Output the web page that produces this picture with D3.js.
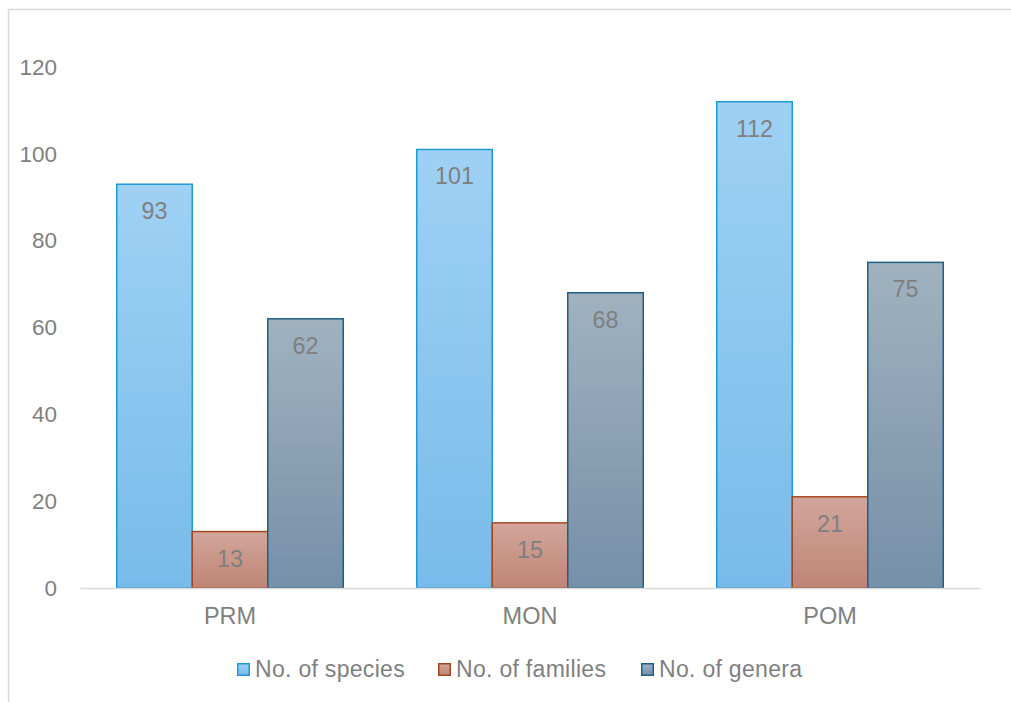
<!DOCTYPE html>
<html>
<head>
<meta charset="utf-8">
<script src="https://cdn.jsdelivr.net/npm/d3@7"></script>
<style>
  html, body { margin: 0; padding: 0; background: #fff; }
  svg { display: block; font-family: Arial, "Liberation Sans", sans-serif; }
</style>
</head>
<body>
<svg id="chart" width="1011" height="702"></svg>
<script>
// Sampling periods and counts per period
const categories = ["PRM", "MON", "POM"];
const seriesNames = ["No. of species", "No. of families", "No. of genera"];
const species = [93, 101, 112];
const families = [13, 15, 21];
const genera = [62, 68, 75];
const yTicks = [0, 20, 40, 60, 80, 100, 120];

const seriesValues = [species, families, genera];
const palette = [
  { top: "#9fd1f4", bottom: "#78bbea", stroke: "#1f9ad6" },
  { top: "#d2a69c", bottom: "#bf8574", stroke: "#a3461f" },
  { top: "#a0b2c0", bottom: "#7590a8", stroke: "#1e5f82" }
];

const svg = d3.select("#chart");
const W = 1011;
const margin = { left: 80, right: 31, top: 67 };
const plotW = W - margin.left - margin.right;
const baseY = 588;
const textColor = "#7f7f7f";

// Outer chart frame
svg.append("rect")
  .attr("x", 8.5).attr("y", 9.5)
  .attr("width", 1100).attr("height", 800)
  .attr("fill", "none").attr("stroke", "#d9d9d9").attr("stroke-width", 1.5);

const x0 = d3.scaleBand().domain(categories)
  .range([margin.left, margin.left + plotW]).paddingInner(0.245).paddingOuter(0.1225);
const x1 = d3.scaleBand().domain(d3.range(seriesNames.length))
  .range([0, x0.bandwidth()]);
const y = d3.scaleLinear().domain([0, 120]).range([baseY, margin.top]);

// Gradients for bar fills
const defs = svg.append("defs");
palette.forEach((p, i) => {
  const g = defs.append("linearGradient").attr("id", "grad" + i)
    .attr("x1", 0).attr("y1", 0).attr("x2", 0).attr("y2", 1);
  g.append("stop").attr("offset", "0%").attr("stop-color", p.top);
  g.append("stop").attr("offset", "100%").attr("stop-color", p.bottom);
});

// Y axis labels (no axis line)
const yAxis = d3.axisLeft(y).tickValues(yTicks).tickSize(0).tickPadding(0);
const yG = svg.append("g").attr("transform", `translate(${57},0)`).call(yAxis);
yG.select(".domain").remove();
yG.selectAll("text").attr("fill", textColor).attr("font-size", 22.5)
  .attr("font-family", "Arial, 'Liberation Sans', sans-serif");

// Bars
const groups = svg.append("g").selectAll("g").data(categories).join("g")
  .attr("transform", d => `translate(${x0(d)},0)`);

groups.each(function (cat, ci) {
  const g = d3.select(this);
  seriesValues.forEach((vals, si) => {
    const v = vals[ci];
    g.append("rect")
      .attr("x", x1(si)).attr("y", y(v))
      .attr("width", x1.bandwidth()).attr("height", baseY - y(v))
      .attr("fill", `url(#grad${si})`)
      .attr("stroke", palette[si].stroke).attr("stroke-width", 1.5);
  });
});

// X axis baseline and category labels
const xAxis = d3.axisBottom(x0).tickSize(0).tickPadding(0);
const xG = svg.append("g").attr("transform", `translate(0,${baseY})`).call(xAxis);
xG.select(".domain").attr("stroke", "#d9d9d9").attr("stroke-width", 1.5);
xG.selectAll("text").attr("fill", textColor).attr("font-size", 23.5)
  .attr("font-family", "Arial, 'Liberation Sans', sans-serif")
  .attr("dy", null).attr("y", 35.5);

// Value labels, inside the top of each bar
groups.each(function (cat, ci) {
  const g = d3.select(this);
  seriesValues.forEach((vals, si) => {
    const v = vals[ci];
    g.append("text")
      .attr("x", x1(si) + x1.bandwidth() / 2)
      .attr("y", y(v) + 35)
      .attr("text-anchor", "middle")
      .attr("fill", textColor).attr("font-size", 23.3)
      .text(v);
  });
});

// Legend
const legendX = [237, 438, 641];
const legend = svg.append("g");
seriesNames.forEach((name, i) => {
  const lg = legend.append("g").attr("transform", `translate(${legendX[i]},663)`);
  lg.append("rect").attr("x", 0.75).attr("y", 0.75).attr("width", 11.5).attr("height", 11.5)
    .attr("fill", `url(#grad${i})`).attr("stroke", palette[i].stroke).attr("stroke-width", 1.5);
  lg.append("text").attr("x", 18).attr("y", 14).attr("fill", textColor)
    .attr("font-size", 23).attr("letter-spacing", 0.3).text(name);
});
</script>
</body>
</html>
